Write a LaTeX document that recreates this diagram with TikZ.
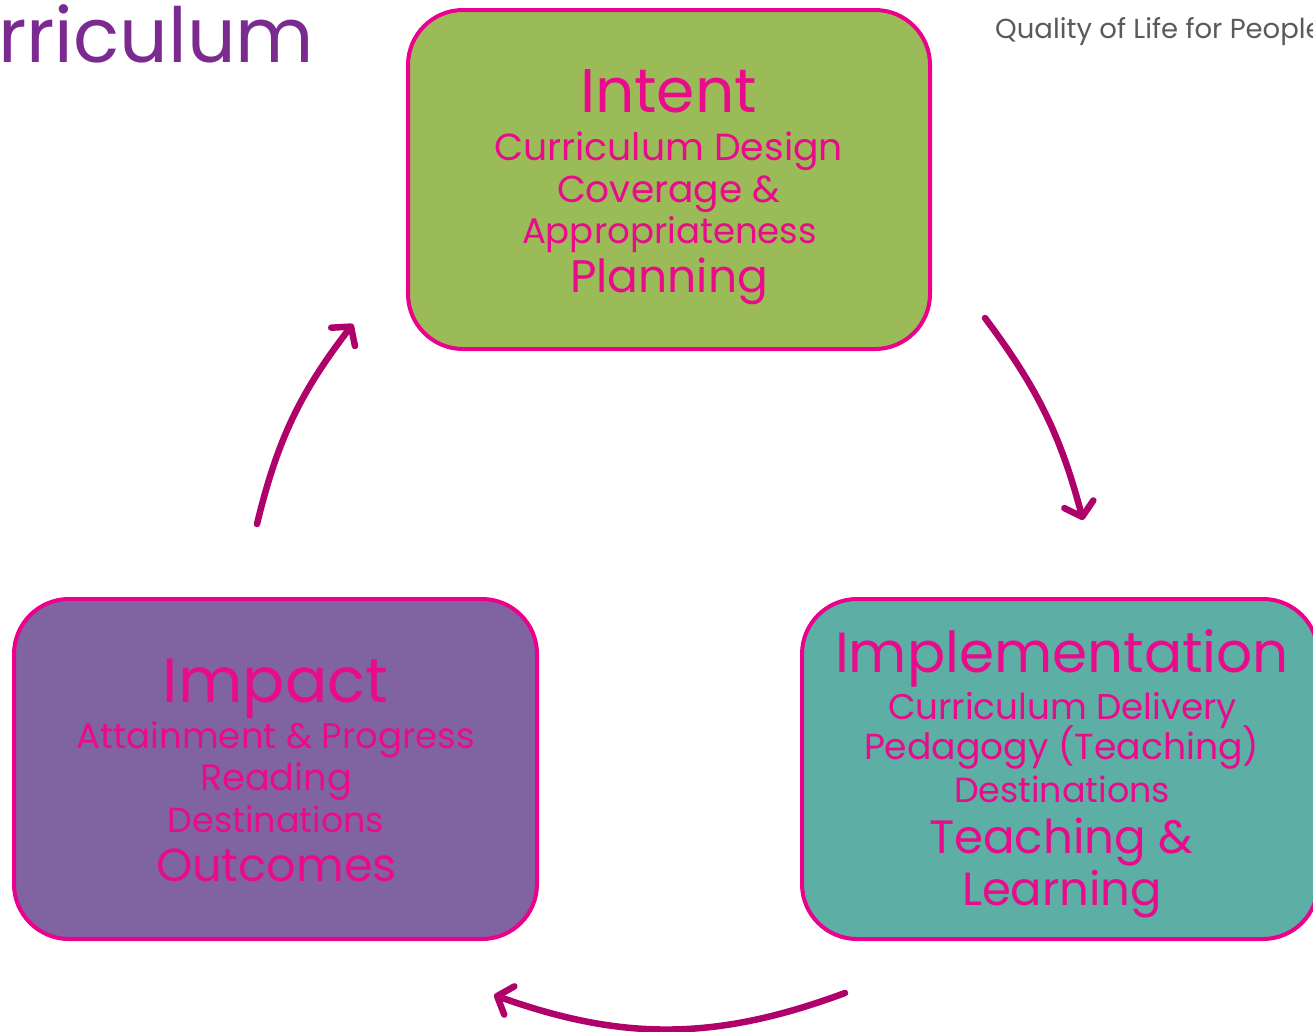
\documentclass[tikz,border=0pt]{standalone}
\usepackage{fontspec}
\setmainfont{Poppins}
\usetikzlibrary{arrows.meta}
\definecolor{pinkline}{HTML}{EC008C}
\definecolor{pinktext}{HTML}{EA0A8C}
\definecolor{intentfill}{HTML}{9BBB59}
\definecolor{impactfill}{HTML}{8064A2}
\definecolor{implfill}{HTML}{5DAEA5}
\definecolor{arrowcol}{HTML}{B0006A}
\definecolor{titlecol}{HTML}{7B2B8F}
\definecolor{qualcol}{HTML}{5A5A5A}
\newcommand{\fitw}[2]{\resizebox{#1pt}{!}{#2}}
\tikzset{
  box/.style={draw=pinkline, line width=4pt, rounded corners=55pt, inner sep=0pt},
  txt/.style={text=pinktext, anchor=base, inner sep=0pt, font=\fontsize{40}{40}\selectfont},
  cyc/.style={draw=arrowcol, line width=6.5pt, line cap=round,
     -{Straight Barb[length=13pt,width=30pt,line cap=round,line join=round]}}
}
\begin{document}
\begin{tikzpicture}[x=1pt,y=-1pt]
\useasboundingbox (0,0) rectangle (1313,1031);
% title fragments
\node[anchor=base west, inner sep=0pt, text=titlecol] (title) at (-2,62) {\fitw{316}{\fontsize{80}{80}\selectfont rriculum}};
\node[anchor=base west, inner sep=0pt, text=qualcol] (quality) at (995,38) {\fontsize{27.5}{27.5}\selectfont Quality of Life for People};
% boxes
\node[box, fill=intentfill, minimum width=522pt, minimum height=339pt] (intent) at (669,179.5) {};
\node[box, fill=impactfill, minimum width=523pt, minimum height=340pt] (impact) at (275.5,769) {};
\node[box, fill=implfill, minimum width=516pt, minimum height=340pt] (impl) at (1060,769) {};
% intent text
\node[txt] (i1) at (668.5,112) {\fitw{177}{Intent}};
\node[txt] (i2) at (668.5,160) {\fitw{349}{Curriculum Design}};
\node[txt] (i3) at (668.5,202) {\fitw{223}{Coverage \&}};
\node[txt] (i4) at (669.5,243) {\fitw{295}{Appropriateness}};
\node[txt] (i5) at (669,292) {\fitw{198}{Planning}};
% impact text
\node[txt] (p1) at (275.5,702) {\fitw{225}{Impact}};
\node[txt] (p2) at (276,748) {\fitw{398}{Attainment \& Progress}};
\node[txt] (p3) at (276,790) {\fitw{152}{Reading}};
\node[txt] (p4) at (276,832) {\fitw{216}{Destinations}};
\node[txt] (p5) at (276.5,881) {\fitw{241}{Outcomes}};
% implementation text
\node[txt] (m1) at (1062,672) {\fitw{454}{Implementation}};
\node[txt] (m2) at (1062.5,719) {\fitw{349}{Curriculum Delivery}};
\node[txt] (m3) at (1061.5,759) {\fitw{395}{Pedagogy (Teaching)}};
\node[txt] (m4) at (1062,802) {\fitw{216}{Destinations}};
\node[txt] (m5) at (1061,853) {\fitw{264}{Teaching \&}};
\node[txt] (m6) at (1062,905) {\fitw{200}{Learning}};
% arrow end points
\coordinate (a1s) at (257,524);
\coordinate (a1e) at (353,324);
\coordinate (a2s) at (985,318);
\coordinate (a2e) at (1083,520);
\coordinate (a3s) at (845,993);
\coordinate (a3e) at (494,995);
\draw[cyc] (a1s) to[bend left=12] (a1e);
\draw[cyc] (a2s) to[bend left=11] (a2e);
\draw[cyc] (a3s) to[bend left=20] (a3e);
\end{tikzpicture}
\end{document}
